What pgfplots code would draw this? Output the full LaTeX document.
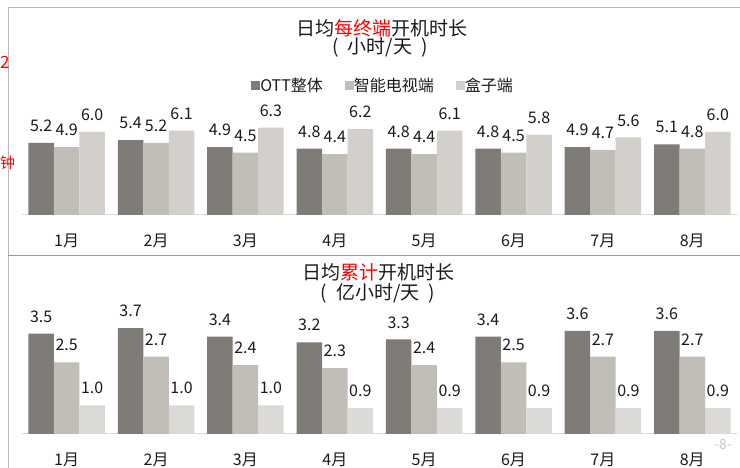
\documentclass[border=0pt]{standalone}
\usepackage{fontspec}
\setmainfont{Noto Sans CJK SC}
\usepackage{pgfplots}
\pgfplotsset{compat=1.18}
\definecolor{ott}{HTML}{7F7B76}
\definecolor{tv}{HTML}{C1BEB8}
\definecolor{boxa}{HTML}{D3D0CB}
\definecolor{boxb}{HTML}{DCDAD6}
\definecolor{frameline}{HTML}{9A9A9A}
\definecolor{baseline}{HTML}{D9D9D9}
\definecolor{lbl}{HTML}{1A1A1A}

\pgfplotsset{
  sqlegend/.style={legend image code/.code={\fill[##1] (0pt,-4.5pt) rectangle (9pt,4.5pt);}},
  mybars/.style={
    scale only axis, width=715pt,
    xmin=-0.5, xmax=7.5, ymin=0,
    ybar=0pt, bar width=25.5pt,
    axis x line*=bottom, axis y line=none,
    x axis line style={draw=baseline, line width=1pt, -},
    xtick={0,...,7},
    xticklabels={1月,2月,3月,4月,5月,6月,7月,8月},
    major tick length=0pt,
    xticklabel style={font=\fontsize{16}{16}\selectfont, text=lbl, anchor=north, inner sep=0pt, yshift=-19pt},
    ytick=\empty,
    /pgf/number format/assume math mode=true,
    nodes near coords={\pgfmathprintnumber[fixed,fixed zerofill,precision=1]{\pgfplotspointmeta}},
    every node near coord/.append style={font=\fontsize{16}{16}\selectfont, text=lbl, anchor=south, inner sep=0pt, yshift=11pt},
    clip=false,
  }
}

\begin{document}
\begin{tikzpicture}
\useasboundingbox (0,0) rectangle (740pt,468pt);
\clip (0,0) rectangle (740pt,468pt);
\fill[white] (0,0) rectangle (740pt,468pt);

% frames
\draw[frameline!70, line width=1pt] (740pt,460pt) -- (8pt,460pt) -- (8pt,0pt);
\draw[frameline, line width=1.5pt] (8pt,212.5pt) -- (740pt,212.5pt);

% fragments at left edge
\node[anchor=west, text=red, inner sep=0pt, font=\fontsize{17}{17}\selectfont] at (0pt,406pt) {2};
\node[anchor=west, text=red, inner sep=0pt, font=\fontsize{15}{15}\selectfont] at (0pt,305pt) {钟};

% titles
\node[font=\fontsize{19}{19}\selectfont, text=lbl] at (382pt,440pt) {日均{\color{red}每终端}开机时长};
\node[font=\fontsize{19}{19}\selectfont, text=lbl] at (380pt,421pt) {(\hspace{9pt}小时/天\hspace{9pt})};
\node[font=\fontsize{19}{19}\selectfont, text=lbl] at (378pt,196pt) {日均{\color{red}累计}开机时长};
\node[font=\fontsize{19}{19}\selectfont, text=lbl] at (378pt,175pt) {(\hspace{9pt}亿小时/天\hspace{9pt})};

% page number
\node[font=\fontsize{14}{14}\selectfont, text=gray!45] at (723pt,23pt) {-8-};

% top chart
\begin{axis}[mybars,
  at={(22pt,253pt)}, anchor=south west,
  height=110.8pt, ymax=8,
  legend columns=3,
  legend style={draw=none, fill=none, font=\fontsize{16}{16}\selectfont, text=lbl,
    at={(0.505,1.173)}, anchor=center,
    /tikz/every even column/.append style={column sep=20pt},
    /tikz/every odd column/.append style={column sep=-2pt}},
]
\addplot[fill=ott, draw=none, sqlegend] coordinates {(0,5.2) (1,5.4) (2,4.9) (3,4.8) (4,4.8) (5,4.8) (6,4.9) (7,5.1)};
\addplot[fill=tv, draw=none, sqlegend] coordinates {(0,4.9) (1,5.2) (2,4.5) (3,4.4) (4,4.4) (5,4.5) (6,4.7) (7,4.8)};
\addplot[fill=boxa, draw=none, sqlegend] coordinates {(0,6.0) (1,6.1) (2,6.3) (3,6.2) (4,6.1) (5,5.8) (6,5.6) (7,6.0)};
\legend{OTT整体,智能电视端,盒子端}
\end{axis}

% bottom chart
\begin{axis}[mybars,
  at={(22pt,34pt)}, anchor=south west,
  height=128.9pt, ymax=4.5,
]
\addplot[fill=ott, draw=none] coordinates {(0,3.5) (1,3.7) (2,3.4) (3,3.2) (4,3.3) (5,3.4) (6,3.6) (7,3.6)};
\addplot[fill=tv, draw=none] coordinates {(0,2.5) (1,2.7) (2,2.4) (3,2.3) (4,2.4) (5,2.5) (6,2.7) (7,2.7)};
\addplot[fill=boxb, draw=none] coordinates {(0,1.0) (1,1.0) (2,1.0) (3,0.9) (4,0.9) (5,0.9) (6,0.9) (7,0.9)};
\end{axis}
\end{tikzpicture}
\end{document}
